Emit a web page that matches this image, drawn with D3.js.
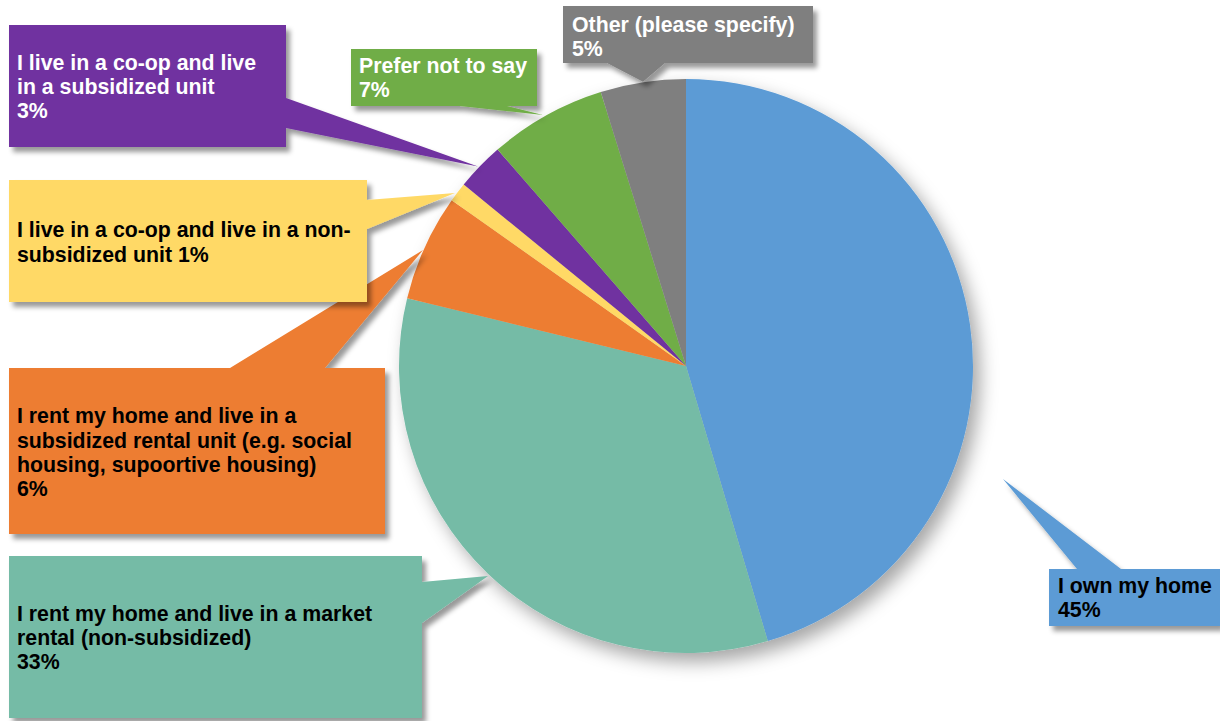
<!DOCTYPE html>
<html><head><meta charset="utf-8">
<script src="https://cdn.jsdelivr.net/npm/d3@7/dist/d3.min.js"></script>
<style>
html,body{margin:0;padding:0;background:#fff;}
svg{display:block;}
text{font-family:"Liberation Sans",Arial,sans-serif;font-weight:bold;}
</style></head>
<body>
<svg id="chart" width="1220" height="721"></svg>
<script>
// ---- data ----
const categories = [
  "I own my home",
  "I rent my home and live in a market rental (non-subsidized)",
  "I rent my home and live in a subsidized rental unit (e.g. social housing, supoortive housing)",
  "I live in a co-op and live in a non-subsidized unit",
  "I live in a co-op and live in a subsidized unit",
  "Prefer not to say",
  "Other (please specify)"
];
const values = [45.4, 33.4, 6.0, 1.1, 2.7, 6.6, 4.8];
const pctLabels = ["45%", "33%", "6%", "1%", "3%", "7%", "5%"];
const colors = ["#5B9BD5", "#74BBA6", "#ED7D31", "#FFD966", "#7030A0", "#70AD47", "#7F7F7F"];
const textColors = ["#000", "#000", "#000", "#000", "#fff", "#fff", "#fff"];
// wrapped label lines (category text + percentage)
const labelLines = [
  ["I own my home", "45%"],
  ["I rent my home and live in a market", "rental (non-subsidized)", "33%"],
  ["I rent my home and live in a", "subsidized rental unit (e.g. social", "housing, supoortive housing)", "6%"],
  ["I live in a co-op and live in a non-", "subsidized unit 1%"],
  ["I live in a co-op and live", "in a subsidized unit", "3%"],
  ["Prefer not to say", "7%"],
  ["Other (please specify)", "5%"]
];

// ---- layout ----
const cx = 686, cy = 366, R = 287;
const callouts = [
  {box:[1049,569,171,57], side:"top",    base:[1077,1121], tip:[1003,479], tx:1058, ty:592.5},
  {box:[9,556,413,162],   side:"right",  base:[582,623],   tip:[488,576],  tx:17,   ty:620.7},
  {box:[9,368,376,166],   side:"top",    base:[230,325],   tip:[423,250],  tx:17,   ty:423.3},
  {box:[9,180,358,122],   side:"right",  base:[200,229],   tip:[455,193],  tx:17,   ty:237.3},
  {box:[9,25,277,122],    side:"right",  base:[98,128],    tip:[478,166.5],tx:17,   ty:70},
  {box:[351,49,186,57],   side:"bottom", base:[460,507],   tip:[543,115],  tx:359,  ty:72.7},
  {box:[563,6,250,57],    side:"bottom", base:[607,665],   tip:[643,81.7], tx:572,  ty:32}
];
const lineH = 24.2;

const svg = d3.select("#chart");
const defs = svg.append("defs");
const f1 = defs.append("filter").attr("id","pieShadow").attr("x","-20%").attr("y","-20%").attr("width","150%").attr("height","150%");
f1.append("feDropShadow").attr("dx",7).attr("dy",9).attr("stdDeviation",9).attr("flood-color","#000").attr("flood-opacity",0.35);
const f2 = defs.append("filter").attr("id","boxShadow").attr("x","-10%").attr("y","-10%").attr("width","130%").attr("height","140%");
f2.append("feDropShadow").attr("dx",4).attr("dy",5).attr("stdDeviation",2.5).attr("flood-color","#000").attr("flood-opacity",0.4);

const data = categories.map((c,i)=>({cat:c, value:values[i], color:colors[i], i}));
const pie = d3.pie().sort(null).value(d=>d.value).startAngle(0).endAngle(2*Math.PI);
const arc = d3.arc().innerRadius(0).outerRadius(R);

const gPie = svg.append("g").attr("transform",`translate(${cx},${cy})`).attr("filter","url(#pieShadow)");
gPie.selectAll("path").data(pie(data)).join("path")
  .attr("d", arc).attr("fill", d=>d.data.color);

// callouts
data.forEach((d,i)=>{
  const c = callouts[i];
  const [x,y,w,h] = c.box;
  const g = svg.append("g").attr("filter","url(#boxShadow)");
  let p;
  if (c.side==="top") {
    p = `M${x},${y} L${c.base[0]},${y} L${c.tip[0]},${c.tip[1]} L${c.base[1]},${y} L${x+w},${y} L${x+w},${y+h} L${x},${y+h} Z`;
  } else if (c.side==="bottom") {
    p = `M${x},${y} L${x+w},${y} L${x+w},${y+h} L${c.base[1]},${y+h} L${c.tip[0]},${c.tip[1]} L${c.base[0]},${y+h} L${x},${y+h} Z`;
  } else {
    p = `M${x},${y} L${x+w},${y} L${x+w},${c.base[0]} L${c.tip[0]},${c.tip[1]} L${x+w},${c.base[1]} L${x+w},${y+h} L${x},${y+h} Z`;
  }
  g.append("path").attr("d",p).attr("fill",d.color);
  const t = svg.append("text").attr("x",c.tx).attr("y",c.ty)
    .attr("font-size",21.3).attr("fill",textColors[i]);
  labelLines[i].forEach((ln,k)=>{
    t.append("tspan").attr("x",c.tx).attr("y",c.ty + k*lineH).text(ln);
  });
});
</script>
</body></html>
